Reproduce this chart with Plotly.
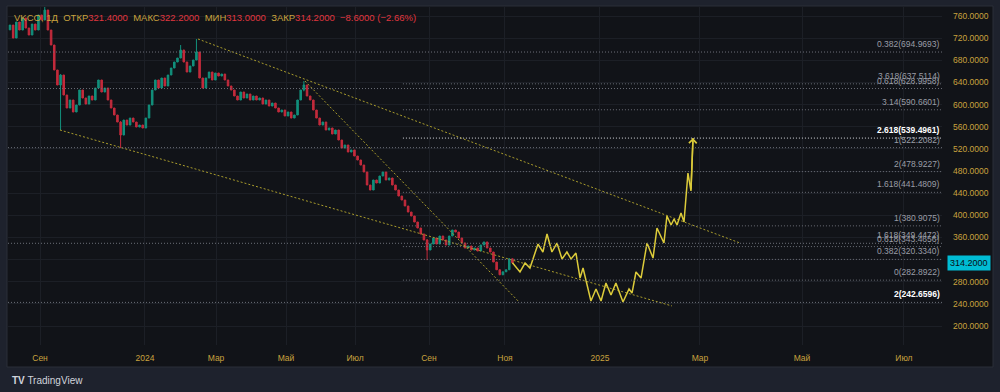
import plotly.graph_objects as go

# ---------------- data ----------------
# candle closes (each candle = 2 trading-day slots)
closes = [743.7, 720.3, 749.2, 734.7, 756.4, 738.3, 725.7, 745.5, 734.7, 761.8,
          752.8, 770.8, 734.7, 707.6, 662.5, 635.4, 653.4, 617.3, 593.8, 608.3,
          586.6, 599.2, 626.3, 611.9, 601.0, 615.5, 608.3, 629.9, 644.4, 622.7,
          629.9, 608.3, 593.8, 581.2, 568.5, 545.0, 572.1, 563.1, 575.7, 568.5,
          559.5, 563.1, 557.7, 575.7, 599.2, 626.3, 644.4, 629.9, 648.0, 633.6,
          653.4, 666.1, 676.9, 684.1, 698.6, 676.9, 658.8, 669.7, 680.5, 695.0,
          648.0, 629.9, 648.0, 658.8, 644.4, 657.0, 651.6, 655.2, 644.4, 633.6,
          626.3, 615.5, 608.3, 622.7, 611.9, 619.1, 608.3, 615.5, 608.3, 611.9,
          601.0, 608.3, 597.4, 602.8, 593.8, 586.6, 590.2, 579.4, 586.6, 575.7,
          581.2, 608.3, 626.3, 635.4, 615.5, 608.3, 590.2, 575.7, 563.1, 568.5,
          554.1, 557.7, 546.9, 554.1, 536.0, 521.6, 527.0, 514.3, 518.0, 507.1,
          499.9, 490.8, 478.2, 454.7, 445.7, 463.8, 458.3, 471.0, 478.2, 463.8,
          467.4, 454.7, 445.7, 434.8, 427.6, 416.8, 405.9, 398.7, 387.9, 377.0,
          366.2, 355.4, 337.3, 348.1, 359.0, 348.1, 362.6, 355.4, 346.3, 362.6,
          373.4, 369.8, 359.0, 350.0, 340.9, 344.5, 337.3, 340.9, 335.5, 346.3,
          351.8, 340.9, 333.7, 315.6, 301.6, 292.5, 297.9, 301.6, 321.4, 314.2]
first_open = 735.0
# candles with visible long wicks: index, high, low
wick_idx = [11, 16, 35, 54, 59, 93, 132]
wick_high = [778.0, 655.0, 570.0, 707.6, 718.5, 642.6, 357.0]
wick_low = [752.8, 554.1, 521.6, 684.1, 680.5, 624.0, 319.0]

# time axis (bar-slot positions of month starts)
tick_pos = [19.0, 85.4, 130.4, 174.7, 218.4, 265.2, 313.3, 373.4, 436.7, 501.3, 565.8]
tick_labels = ['Сен', '2024', 'Мар', 'Май', 'Июл', 'Сен', 'Ноя', '2025', 'Мар', 'Май', 'Июл']
price_ticks = [200, 240, 280, 320, 360, 400, 440, 480, 520, 560, 600, 640, 680, 720, 760]

# header values
sym = 'VKCO, 1Д'
h_open, h_high, h_low, h_close = 321.4, 322.2, 313.0, 314.2
h_chg, h_pct = -8.6, -2.66

# projected path (hand-drawn forecast)
proj_x = [318.0, 322.8, 326.0, 329.1, 334.2, 337.3, 339.9, 343.0, 346.2, 349.4,
          352.5, 355.1, 358.2, 360.8, 362.7, 367.7, 370.9, 374.1, 377.2, 380.4,
          383.5, 388.0, 391.8, 393.7, 396.2, 399.4, 403.2, 407.0, 409.5, 413.9,
          415.8, 418.4, 420.3, 422.2, 424.7, 426.6, 429.1, 431.0, 432.3]
proj_y = [314.2, 297.6, 313.8, 304.8, 348.1, 333.7, 366.2, 333.7, 349.9, 321.0,
          333.7, 321.0, 331.9, 286.7, 304.8, 245.2, 266.9, 245.2, 277.7, 256.0,
          277.7, 243.4, 266.9, 259.6, 297.6, 286.7, 349.9, 322.8, 377.0, 349.9,
          398.7, 382.5, 393.3, 382.5, 404.1, 387.9, 476.4, 443.9, 539.5]

# dotted trendlines: start (x, price) -> end (x, price)
trend_x0 = [31.6, 119.0, 186.7]
trend_y0 = [554.1, 718.5, 642.6]
trend_x1 = [419.0, 462.0, 322.2]
trend_y1 = [236.2, 350.0, 243.4]

# Fibonacci levels
fib_names = ['0.382', '0.618', '1', '1.618', '2',
             '0', '0.382', '0.618', '1', '1.618', '2', '2.618', '3.14', '3.618']
fib_prices = [694.9693, 628.9958, 522.2082, 349.4472, 242.6596,
              282.8922, 320.3340, 343.4656, 380.9075, 441.4809, 478.9227, 539.4961, 590.6601, 637.5114]
fib_start = [-1.27, -1.27, -1.27, -1.27, -1.27,
             248.7, 248.7, 248.7, 248.7, 248.7, 248.7, 248.7, 248.7, 248.7]

# ---------------- styling ----------------
X_RANGE = [-1.27, 589.9]
Y_RANGE = [165.7, 776.3]
FRAME = '#1e222d'
PANE = '#111318'
GRID = '#1c1f26'
GOLD = '#c9a23e'
RED_T = '#e0363f'
UP = '#12907c'
DOWN = '#c42b3c'
FONT = 'Liberation Sans, Arial, sans-serif'

xs = [2 * i for i in range(len(closes))]
opens = [first_open] + closes[:-1]
highs = [max(o, c) for o, c in zip(opens, closes)]
lows = [min(o, c) for o, c in zip(opens, closes)]
for i, hi, lo in zip(wick_idx, wick_high, wick_low):
    highs[i] = hi
    lows[i] = lo

fig = go.Figure()

fig.add_trace(go.Candlestick(
    x=xs, open=opens, high=highs, low=lows, close=closes,
    increasing=dict(line=dict(color=UP, width=1), fillcolor=UP),
    decreasing=dict(line=dict(color=DOWN, width=1), fillcolor=DOWN),
    whiskerwidth=0, hoverinfo='skip', showlegend=False))

shapes = []
# chart container
shapes.append(dict(type='rect', xref='paper', yref='paper', layer='below',
                   x0=-1 / 934, x1=985 / 934, y0=(345 - 367) / 338, y1=1 + 1 / 338,
                   fillcolor=PANE, line=dict(color='#2a2e39', width=1)))

# fib lines
for name, p, x0 in zip(fib_names, fib_prices, fib_start):
    hl = (name == '2.618')
    shapes.append(dict(type='line', xref='x', yref='y', x0=x0, x1=X_RANGE[1], y0=p, y1=p,
                       line=dict(color='#d8dae0' if hl else '#6c6f78', width=1, dash='1px,2px'),
                       layer='above'))

# trendlines
for x0, y0, x1, y1 in zip(trend_x0, trend_y0, trend_x1, trend_y1):
    fig.add_trace(go.Scatter(x=[x0, x1], y=[y0, y1], mode='lines',
                             line=dict(color='#a99c2c', width=1, dash='2px,2px'),
                             hoverinfo='skip', showlegend=False))

fig.add_trace(go.Scatter(x=proj_x, y=proj_y, mode='lines',
                         line=dict(color='#dccb3a', width=1.5),
                         hoverinfo='skip', showlegend=False))

annotations = []
for name, p in zip(fib_names, fib_prices):
    bold = (name == '2.618') or (name == '2' and p < 300)
    txt = f'{name}({p:.4f})'
    if bold:
        txt = f'<b>{txt}</b>'
    annotations.append(dict(xref='paper', yref='y', x=1, y=p, xanchor='right', yanchor='bottom',
                            yshift=1, text=txt, showarrow=False,
                            font=dict(family=FONT, size=8.5, color='#ffffff' if bold else '#9a9da6')))

# arrow head of projection
annotations.append(dict(xref='x', yref='y', axref='x', ayref='y',
                        x=proj_x[-1], y=proj_y[-1], ax=proj_x[-2], ay=proj_y[-2],
                        text='', showarrow=True, arrowhead=4, arrowsize=1, arrowwidth=1.5,
                        arrowcolor='#dccb3a', standoff=0))

# header
def seg(lbl, val):
    return (f"<span style='color:{GOLD}'>{lbl}</span>"
            f"<span style='color:{RED_T}'>{val}</span>")

header = (f"<span style='color:{GOLD}'>{sym}</span>&nbsp;&nbsp;"
          + seg('ОТКР', f'{h_open:.4f}') + '&nbsp;&nbsp;'
          + seg('МАКС', f'{h_high:.4f}') + '&nbsp;&nbsp;'
          + seg('МИН', f'{h_low:.4f}') + '&nbsp;&nbsp;'
          + seg('ЗАКР', f'{h_close:.4f}') + '&nbsp;&nbsp;'
          + f"<span style='color:{RED_T}'>{h_chg:.4f} ({h_pct:.2f}%)</span>".replace('-', '−'))
annotations.append(dict(xref='paper', yref='paper', x=0, y=1, xanchor='left', yanchor='top',
                        xshift=4, yshift=-3, text=header, showarrow=False,
                        font=dict(family=FONT, size=9.5, color=GOLD)))

# last price tag
annotations.append(dict(xref='paper', yref='y', x=1, y=h_close, xanchor='left', yanchor='middle',
                        xshift=5, text=f'{h_close:.4f}', showarrow=False, bgcolor='#00bcd4',
                        borderpad=2, font=dict(family=FONT, size=9, color='#0b0d12')))

# TradingView logo text
annotations.append(dict(xref='paper', yref='paper', x=0, y=0, xanchor='left', yanchor='middle',
                        xshift=2, yshift=-35, showarrow=False,
                        text="<b>TV</b> TradingView",
                        font=dict(family=FONT, size=10, color='#d1d4dc')))

fig.update_layout(
    width=1000, height=392,
    margin=dict(l=8, r=58, t=7, b=47),
    paper_bgcolor=FRAME, plot_bgcolor='rgba(0,0,0,0)',
    shapes=shapes, annotations=annotations,
    showlegend=False, hovermode=False,
    xaxis=dict(range=X_RANGE, tickvals=tick_pos, ticktext=tick_labels,
               showgrid=True, gridcolor=GRID, gridwidth=1, zeroline=False,
               rangeslider=dict(visible=False), ticks='', ticklabelstandoff=6,
               tickfont=dict(family=FONT, size=8.5, color=GOLD), fixedrange=True),
    yaxis=dict(range=Y_RANGE, side='right', tickvals=price_ticks, tickformat='.4f',
               showgrid=True, gridcolor=GRID, gridwidth=1, zeroline=False, ticks='',
               ticklabelstandoff=10,
               tickfont=dict(family=FONT, size=8.5, color=GOLD), fixedrange=True),
)

fig.write_html('out.html', config={'displayModeBar': False},
               post_script="document.body.style.margin='0';"
                           "document.body.style.background='#1e222d';"
                           "document.body.style.overflow='hidden';")
